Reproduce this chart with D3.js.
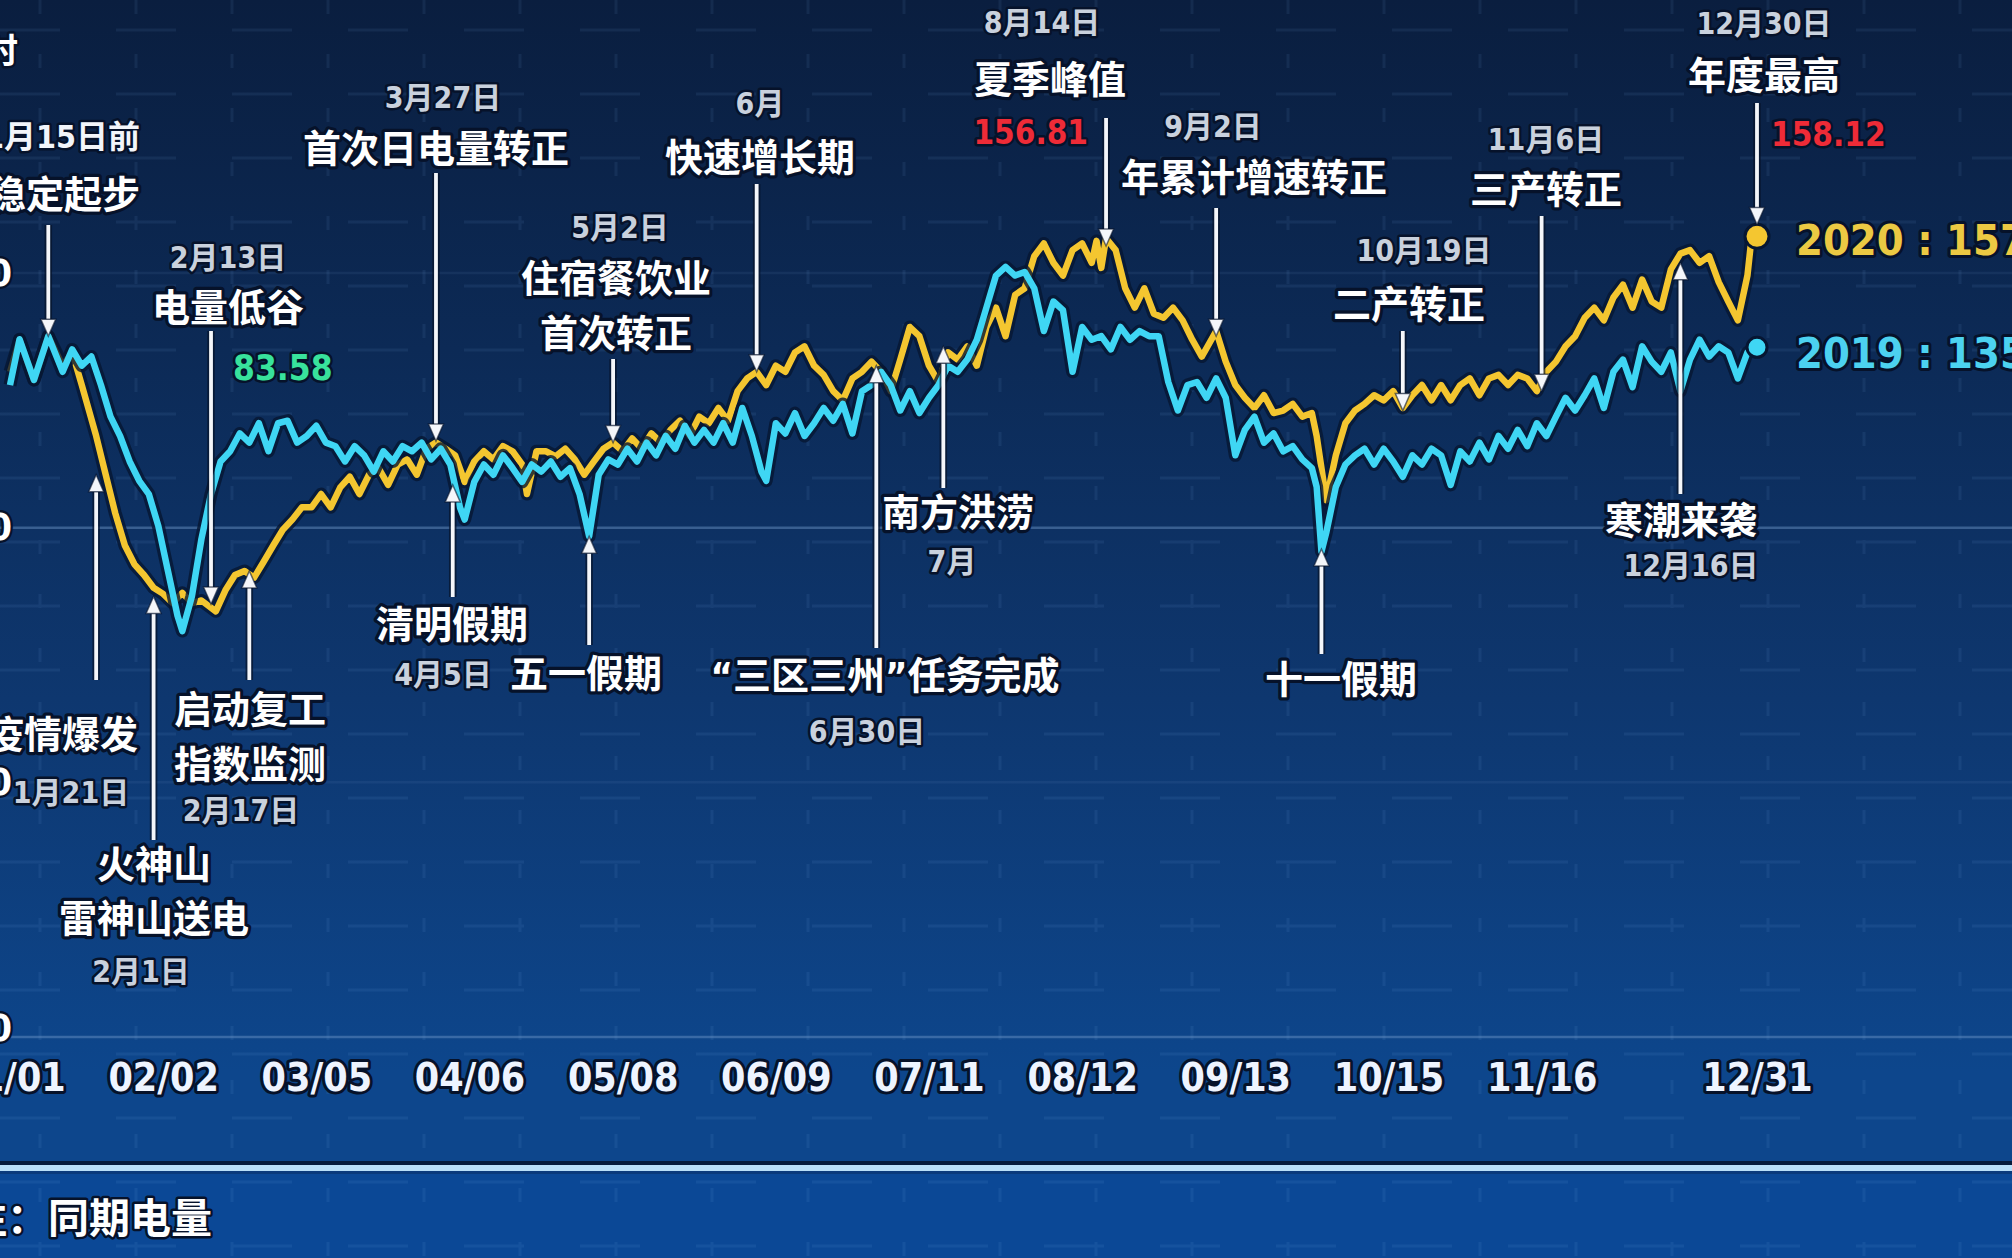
<!DOCTYPE html>
<html><head><meta charset="utf-8">
<script src="https://cdn.jsdelivr.net/npm/d3@7"></script>
<style>
html,body{margin:0;padding:0;background:#0c2a57;overflow:hidden}
svg{display:block}
text{font-family:"DejaVu Sans Condensed","DejaVu Sans","Noto Sans CJK SC",sans-serif;font-stretch:condensed;font-weight:bold;paint-order:stroke;stroke:#06122a;stroke-linejoin:round}
</style></head><body>
<svg id="c" width="2012" height="1258"></svg>
<script>
// ---------------- DATA ----------------
// day index from 2020-01-01
const days2020 = [0,2,5,8,11,13,15,18,20,22,24,26,28,30,32,34,36,38,40,43,45,47,49,51,53,55,57,59,61,63,65,67,69,71,73,75,77,79,81,83,85,87,89,91,93,95,97,99,101,103,105,107,108,110,112,114,116,118,120,122,124,126,128,130,132,134,136,138,140,142,144,146,148,150,152,154,156,158,160,162,164,166,168,170,172,174,176,178,180,182,184,186,188,190,192,194,196,198,200,202,204,206,208,210,212,214,216,218,220,222,224,226,227,228,229,231,233,235,237,239,241,243,245,247,249,251,252,254,256,258,260,262,264,266,268,270,272,273,275,277,279,281,283,285,287,289,291,293,295,297,299,301,303,305,307,309,311,313,315,317,319,321,323,325,327,329,331,333,335,337,339,341,343,345,347,349,351,353,355,357,359,361,363,364,365];
const power2020 = [130.6,136.9,129,137.6,131.8,134.4,128,118,110.4,102.8,96.5,92.8,90.7,88.2,87,85.2,87.2,85.2,85.7,83.58,87.7,90.7,91.5,90.2,93.3,96.5,99.6,101.6,104,104,106.6,104,107.9,110,106.6,110.4,111.7,108.4,112.4,113.4,110.4,115.5,116.7,115.5,114.2,109,113,115,113.4,116,115,112.4,106.6,115,115,114,115.5,113.4,110.4,113,115.5,116.7,115,117.5,115.5,118.5,116.7,119.2,121,118,121.8,120.5,123.5,121,126.8,129.3,130.6,128,131.8,130.6,134.4,135.6,131.8,130,126.8,125,129.3,130.6,132.6,130.6,126.8,133,139.4,137.6,131.8,128.6,134.4,133,135.6,131.8,139.4,143.2,137.6,145.7,147,153.3,155.8,152,149.5,154.5,155.8,152,156.3,151,156.81,154.5,147,143.2,147,142,141.2,143.2,140.7,136.9,133.6,136.9,138.6,132.6,128,125.5,123.5,126,122.5,123,124.3,121.8,122.5,118,105.4,114.2,120.5,123,124.3,126,125,126.8,123.5,126,128,125,128,125,128,129.3,126,129.3,130,128,130,129.3,126.8,130.6,132.6,135.6,137.6,141.2,143.2,140.7,145.2,147.7,143.2,148.7,144.4,143.2,150.7,153.8,154.5,152,153.3,148.2,144.4,140.7,149.5,158.12,157.2];
const days2019 = [0,2,5,8,11,13,15,17,19,21,23,25,27,29,31,33,35,36,38,40,42,44,46,48,50,52,54,56,58,60,62,64,66,68,70,72,74,76,78,80,82,84,86,88,90,92,94,95,97,99,101,103,105,107,109,111,113,115,117,119,121,123,125,127,129,131,133,135,137,139,141,143,145,147,149,151,153,155,157,158,160,162,164,166,168,170,172,174,176,178,180,182,184,186,188,190,192,194,196,198,200,202,204,206,208,210,212,214,216,218,220,222,224,226,228,230,232,234,236,238,240,242,244,246,248,250,252,254,256,258,260,262,264,266,268,270,272,273,274,275,277,279,281,283,285,287,289,291,293,295,297,299,301,303,305,307,309,311,313,315,317,319,321,323,325,327,329,331,333,335,337,339,341,343,345,347,349,351,353,355,357,359,361,363,365];
const power2019 = [128,137,129,137.6,130.6,135,131.8,133.6,128,121.8,118,113,109.2,106.6,100.3,91.5,82.7,79.7,86.5,97.8,106.6,113,115,118.5,116.7,120.5,115,120.5,121,116.7,118,120,116.7,116,113,116,114.2,111,115,113,116,115,116.7,113.4,115.5,112.4,104,101.6,109,112.4,110.4,114.2,111.7,109,112.4,111,113,110,111.7,106.6,98.3,110.4,113.4,112.4,115.5,113,116.7,114.2,118,115.5,120,116.7,119.2,116.7,120.5,116.7,123.5,118,111,109.2,120.5,118.5,122.5,118,120.5,123.5,121,124.3,118.5,126.8,128,130.6,128,123,126.8,122.5,125.5,128,131.8,130.6,133,136.9,143.2,149.5,151.2,149.5,150.2,147,138.6,144.4,142.7,130.6,139.4,136.9,137.6,135,139.4,136.9,138.6,137.6,137.6,128.6,123,128,128.6,125.5,129.3,125.5,114.2,119.2,121.8,116.7,118.5,115,116,113.4,111.7,108,95.3,99,108,112.4,114.2,115.5,112.4,115.5,113,110,114.2,112.4,115.5,114.2,108.4,115,113,116.7,113.4,118,115.5,119.2,116,120.5,118,121.8,125.5,123,126,129.3,123.5,130.6,133,127.6,135.6,132.6,130.6,134.4,126.8,133,136.9,133.6,135.6,134.4,129.3,134.4,135.4];

const xTickLabels = ["01/01","02/02","03/05","04/06","05/08","06/09","07/11","08/12","09/13","10/15","11/16","12/31"];
const yTickValues = [0,50,100,150];
const seriesNames = ["2020","2019"];
const endLabels = ["2020 : 157.2","2019 : 135.4"];
const unitText = "单位：亿千瓦时";
const noteText = "注：同期电量";

// annotations: arrow day, value at arrow tip, direction
const annoDay  = [8,42,89,126,156,229,252,291,320,365, 18,30,50,92.5,121,181,195,274,349];
const annoTip  = [137.6,85,117,116.7,130.6,155.3,137.6,123,126.8,159.5, 110.4,86.5,91.5,108.4,98.3,131.8,135.6,95.8,152];
const annoDir  = ["down","down","down","down","down","down","down","down","down","down","up","up","up","up","up","up","up","up","up"];
const annoTitle = [["稳定起步"],["电量低谷"],["首次日电量转正"],["住宿餐饮业","首次转正"],["快速增长期"],["夏季峰值"],["年累计增速转正"],["二产转正"],["三产转正"],["年度最高"],
                   ["疫情爆发"],["火神山","雷神山送电"],["启动复工","指数监测"],["清明假期"],["五一假期"],["“三区三州”任务完成"],["南方洪涝"],["十一假期"],["寒潮来袭"]];
const annoDate = ["1月15日前","2月13日","3月27日","5月2日","6月","8月14日","9月2日","10月19日","11月6日","12月30日",
                  "1月21日","2月1日","2月17日","4月5日","","6月30日","7月","","12月16日"];
const annoValue = ["","83.58","","","","156.81","","","","158.12","","","","","","","","",""];

// ---------------- LAYOUT ----------------
const W = 2012, H = 1258;
const svg = d3.select("#c");
const defs = svg.append("defs");
const bg = defs.append("linearGradient").attr("id","bg").attr("x1",0).attr("y1",0).attr("x2",0).attr("y2",1);
[[0,"#0a1e3f"],[0.3,"#0c2a56"],[0.6,"#0e376f"],[0.92,"#0d468c"]].forEach(s=>bg.append("stop").attr("offset",s[0]).attr("stop-color",s[1]));
svg.append("rect").attr("width",W).attr("height",1165).attr("fill","url(#bg)");
svg.append("rect").attr("y",1165).attr("width",W).attr("height",H-1165).attr("fill","#0b4896");

// faint background grid
const gBg = svg.append("g").attr("opacity",0.08);
for (let gx=40; gx<W; gx+=96) gBg.append("line").attr("x1",gx).attr("x2",gx).attr("y1",0).attr("y2",H).attr("stroke","#8fc2ff").attr("stroke-width",3).attr("stroke-dasharray","14 40");
for (let gy=30; gy<H; gy+=64) gBg.append("line").attr("x1",0).attr("x2",W).attr("y1",gy).attr("y2",gy).attr("stroke","#8fc2ff").attr("stroke-width",3).attr("stroke-dasharray","60 56");

const base = new Date(2020,0,1);
const toDate = d => new Date(2020,0,1+Math.floor(d), (d%1)*24);
const x = d3.scaleTime().domain([base,new Date(2020,11,31)]).range([10,1757]);
const y = d3.scaleLinear().domain([0,150]).range([1037,273]);

// gridlines
svg.append("g").selectAll("line").data(yTickValues).join("line")
  .attr("x1",0).attr("x2",W).attr("y1",d=>y(d)).attr("y2",d=>y(d))
  .attr("stroke","#6f97c8").attr("stroke-width",2.5)
  .attr("opacity",d=>(d===100||d===0)?0.45:0.1);

// y axis (mostly clipped at left edge)
const yAx = svg.append("g").attr("transform","translate(12,0)")
  .call(d3.axisLeft(y).tickValues(yTickValues).tickSize(0).tickPadding(0));
yAx.select(".domain").remove();
yAx.selectAll("text").attr("font-size",38).attr("fill","#ffffff").attr("stroke-width",5).style("font-family",null);
yAx.selectAll(".tick").filter(d=>d===0).select("text").attr("dy","0.1em");

svg.append("text").attr("x",18).attr("y",51).attr("dy","0.35em").attr("text-anchor","end")
  .attr("font-size",34).attr("fill","#fff").attr("stroke-width",5).text(unitText);

// x axis
const tickDates = xTickLabels.map(s=>{const [m,d]=s.split("/").map(Number);return new Date(2020,m-1,d);});
const xAx = svg.append("g").attr("transform","translate(0,1037)")
  .call(d3.axisBottom(x).tickValues(tickDates).tickFormat(d3.timeFormat("%m/%d")).tickSize(0));
xAx.select(".domain").remove();
xAx.selectAll("text").attr("y",40).attr("dy","0.35em").attr("font-size",39).attr("fill","#eef4ff").attr("stroke-width",6).style("font-family",null);

// separator & note
svg.append("rect").attr("x",0).attr("y",1161).attr("width",W).attr("height",4).attr("fill","#061a3c");
svg.append("rect").attr("x",0).attr("y",1165).attr("width",W).attr("height",6).attr("fill","#b9def8");
svg.append("rect").attr("x",0).attr("y",1171).attr("width",W).attr("height",3).attr("fill","#0a3a7c");
svg.append("text").attr("x",-34).attr("y",1219).attr("dy","0.35em").attr("font-size",41).attr("fill","#fff").attr("stroke-width",5).text(noteText);

// lines
const s2020 = days2020.map((d,i)=>({date:toDate(d),v:power2020[i]}));
const s2019 = days2019.map((d,i)=>({date:toDate(d),v:power2019[i]}));
const line = d3.line().x(d=>x(d.date)).y(d=>y(d.v));
const colors = {"2020":"#f4c630","2019":"#3fd6f4"};
[[s2020,"2020"],[s2019,"2019"]].forEach(([s,k])=>{
  svg.append("path").datum(s).attr("d",line).attr("fill","none").attr("stroke","#061632").attr("stroke-opacity",0.8).attr("stroke-width",13).attr("stroke-linejoin","round");
  svg.append("path").datum(s).attr("d",line).attr("fill","none").attr("stroke",colors[k]).attr("stroke-width",6.5).attr("stroke-linejoin","round");
});
// end dots
[[s2020,"2020",12],[s2019,"2019",10]].forEach(([s,k,r])=>{
  const p = s[s.length-1];
  svg.append("circle").attr("cx",x(p.date)).attr("cy",y(p.v)).attr("r",r).attr("fill",colors[k]).attr("stroke","#061632").attr("stroke-width",3);
});
// end labels
const endLabelY = [240,353];
endLabels.forEach((t,i)=>{
  svg.append("text").attr("x",1796).attr("y",endLabelY[i]).attr("dy","0.35em").attr("font-size",43)
    .attr("fill",i===0?"#ecc943":"#4cd2f0").attr("stroke-width",6).text(t);
});

// annotation layout (pixel positions of texts and arrow tails)
const annoLayout = [
  {tail:225, date:[62,137], title:[[64,195]], dateColor:"#f2f5fa", dateSize:32},
  {tail:331, date:[228,257], title:[[228,308]], val:[233,368,"start","#38e29c",35]},
  {tail:173, date:[443,97], title:[[436,149]]},
  {tail:359, date:[620,227], title:[[616,279],[616,334]]},
  {tail:184, date:[760,103], title:[[760,158]]},
  {tail:118, date:[1042,22], title:[[1050,80]], val:[1088,132,"end","#ee2b37",33]},
  {tail:208, date:[1213,126], title:[[1254,178]]},
  {tail:331, date:[1424,250], title:[[1409,305]]},
  {tail:216, date:[1546,139], title:[[1546,190]]},
  {tail:103, date:[1764,23], title:[[1764,76]], val:[1771,134,"start","#ee2b37",33]},
  {tail:680, date:[71,792], title:[[62,735]]},
  {tail:840, date:[141,971], title:[[154,865],[154,919]]},
  {tail:680, date:[241,810], title:[[250,710],[250,765]]},
  {tail:597, date:[443,674], title:[[452,625]]},
  {tail:645, date:null, title:[[586,674]]},
  {tail:648, date:[867,731], title:[[885,676]]},
  {tail:488, date:[952,561], title:[[958,513]]},
  {tail:654, date:null, title:[[1341,680]]},
  {tail:494, date:[1691,565], title:[[1681,521]]}
];

const gA = svg.append("g");
annoDay.forEach((d,i)=>{
  const L = annoLayout[i];
  const ax = x(toDate(d));
  const tipY = y(annoTip[i]);
  const down = annoDir[i]==="down";
  const y1 = L.tail, y2 = tipY;
  const headLen = 17, hw = 7.5;
  const shaftEnd = down ? y2-headLen : y2+headLen;
  gA.append("line").attr("x1",ax).attr("x2",ax).attr("y1",y1).attr("y2",shaftEnd).attr("stroke","#06122a").attr("stroke-opacity",0.7).attr("stroke-width",7.5);
  gA.append("line").attr("x1",ax).attr("x2",ax).attr("y1",y1).attr("y2",shaftEnd).attr("stroke","#f4f6fa").attr("stroke-width",3.8);
  const pts = down ? [[ax-hw,y2-headLen],[ax+hw,y2-headLen],[ax,y2]] : [[ax-hw,y2+headLen],[ax+hw,y2+headLen],[ax,y2]];
  gA.append("polygon").attr("points",pts.map(p=>p.join(",")).join(" ")).attr("fill","#f4f6fa").attr("stroke","#06122a").attr("stroke-width",1.5).attr("stroke-opacity",0.6);
  annoTitle[i].forEach((t,j)=>{
    const p = L.title[j];
    gA.append("text").attr("x",p[0]).attr("y",p[1]).attr("dy","0.35em").attr("text-anchor","middle")
      .attr("font-size",38).attr("fill","#ffffff").attr("stroke-width",6.5).text(t);
  });
  if (L.date && annoDate[i]) {
    gA.append("text").attr("x",L.date[0]).attr("y",L.date[1]).attr("dy","0.35em").attr("text-anchor","middle")
      .attr("font-size",L.dateSize||30).attr("fill",L.dateColor||"#c9d1dd").attr("stroke-width",5).text(annoDate[i]);
  }
  if (L.val && annoValue[i]) {
    gA.append("text").attr("x",L.val[0]).attr("y",L.val[1]).attr("dy","0.35em").attr("text-anchor",L.val[2])
      .attr("font-size",L.val[4]).attr("fill",L.val[3]).attr("stroke-width",5).text(annoValue[i]);
  }
});
</script></body></html>
